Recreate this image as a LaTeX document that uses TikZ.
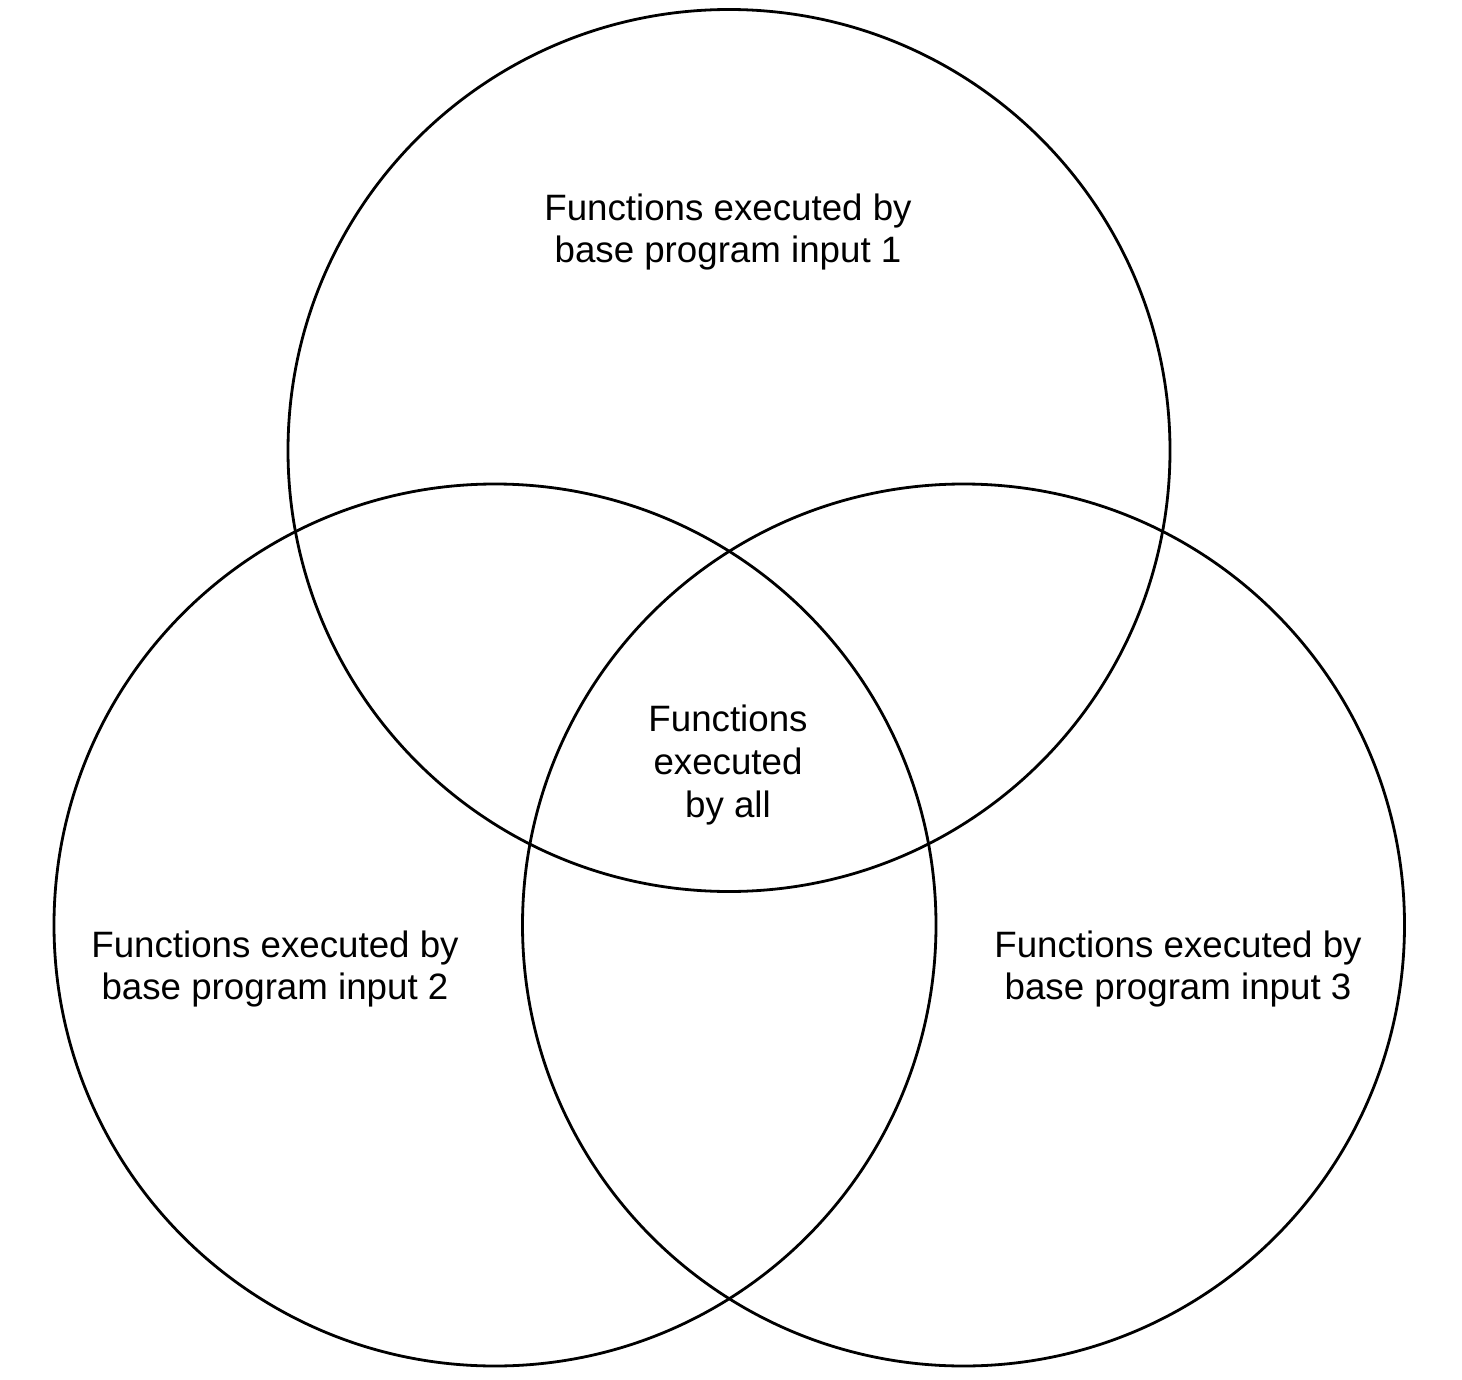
\documentclass[tikz,border=0pt]{standalone}
\usepackage{fontspec}
\setmainfont{Liberation Sans}
\begin{document}
\begin{tikzpicture}[x=1pt,y=-1pt,
  setring/.style={circle,draw=black,line width=2.8pt,minimum size=882pt,inner sep=0pt},
  setlabel/.style={align=center,inner sep=0pt,font=\fontsize{36.7}{42.6}\selectfont}]
  \useasboundingbox (0,0) rectangle (1462,1380);
  % the three overlapping sets
  \node[setring] (one)   at (729,450.5) {};
  \node[setring] (two)   at (495,925) {};
  \node[setring] (three) at (963.5,925) {};
  % labels
  \node[setlabel] (lone)   at (728,232) {Functions executed by\\base program input 1};
  \node[setlabel] (ltwo)   at (275,969) {Functions executed by\\base program input 2};
  \node[setlabel] (lthree) at (1178,969) {Functions executed by\\base program input 3};
  \node[setlabel] (lall)   at (728,765) {Functions\\executed\\by all};
\end{tikzpicture}
\end{document}
